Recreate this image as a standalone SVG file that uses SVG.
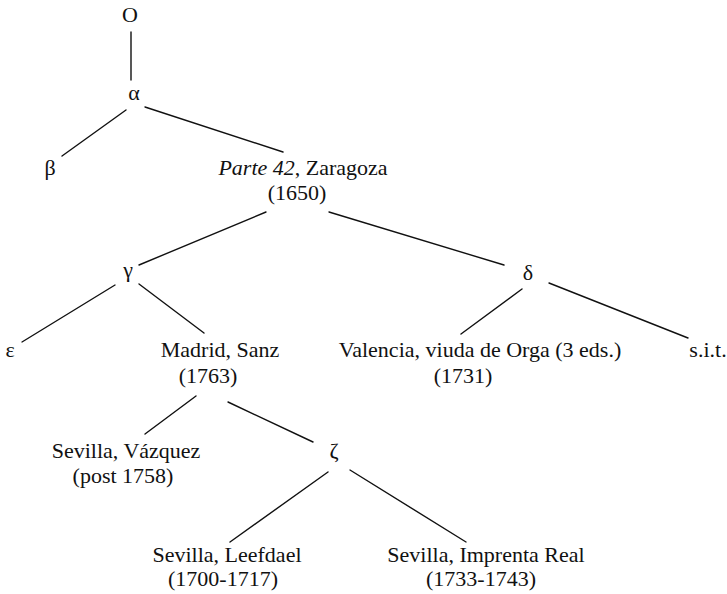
<svg xmlns="http://www.w3.org/2000/svg" width="727" height="594" viewBox="0 0 727 594">
<style>
text{font-size:22px;fill:#111;text-anchor:middle}
.it{font-style:italic}
#connectors line{stroke:#111;stroke-width:1.4;stroke-linecap:round}
</style>
<rect width="727" height="594" fill="#fff"/>
<g id="connectors">
<line x1="131" y1="32" x2="131" y2="80"/>
<line x1="126" y1="110" x2="62" y2="156"/>
<line x1="145" y1="107" x2="283" y2="152"/>
<line x1="266" y1="212" x2="139" y2="265"/>
<line x1="329" y1="212" x2="504" y2="265"/>
<line x1="115" y1="285" x2="22" y2="342"/>
<line x1="139" y1="284" x2="204" y2="333"/>
<line x1="522" y1="289" x2="461" y2="334"/>
<line x1="549" y1="283" x2="688" y2="338"/>
<line x1="196" y1="396" x2="145" y2="434"/>
<line x1="228" y1="402" x2="313" y2="442"/>
<line x1="328" y1="472" x2="230" y2="542"/>
<line x1="350" y1="470" x2="466" y2="542"/>
</g>
<g font-family="Liberation Serif">
<g id="node-O"><text x="130" y="22">O</text></g>
<g id="node-alpha"><text x="134" y="100">α</text></g>
<g id="node-beta"><text x="50" y="175">β</text></g>
<g id="node-parte42"><text x="303" y="175"><tspan class="it">Parte 42</tspan>, Zaragoza</text><text x="297" y="200">(1650)</text></g>
<g id="node-gamma"><text x="128" y="277">γ</text></g>
<g id="node-delta"><text x="528" y="280">δ</text></g>
<g id="node-epsilon"><text x="10" y="357">ε</text></g>
<g id="node-madrid"><text x="220" y="357">Madrid, Sanz</text><text x="208" y="383">(1763)</text></g>
<g id="node-valencia"><text x="480" y="357">Valencia, viuda de Orga (3 eds.)</text><text x="463" y="383">(1731)</text></g>
<g id="node-sit"><text x="708" y="357">s.i.t.</text></g>
<g id="node-vazquez"><text x="126" y="458">Sevilla, Vázquez</text><text x="123" y="483">(post 1758)</text></g>
<g id="node-zeta"><text x="334" y="458">ζ</text></g>
<g id="node-leefdael"><text x="227" y="562">Sevilla, Leefdael</text><text x="223" y="586">(1700-1717)</text></g>
<g id="node-imprenta"><text x="486" y="562">Sevilla, Imprenta Real</text><text x="481" y="586">(1733-1743)</text></g>
</g>
</svg>
